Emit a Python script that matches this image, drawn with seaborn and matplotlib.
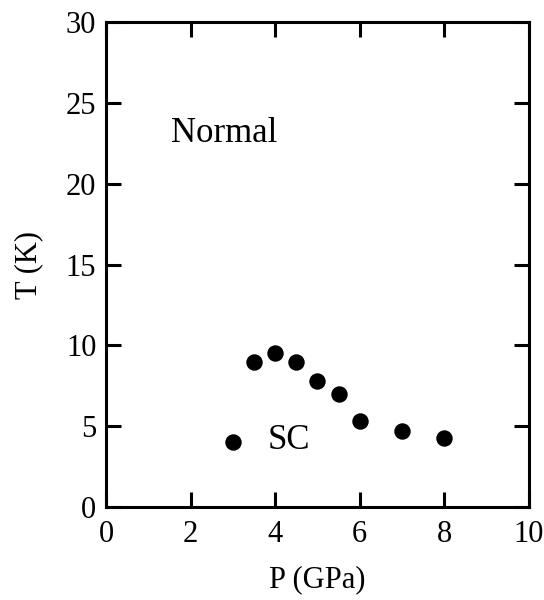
import seaborn as sns
from matplotlib import pyplot as plt
import pandas as pd

pressure = [3.0, 3.5, 4.0, 4.5, 5.0, 5.5, 6.0, 7.0, 8.0]
tc = [4.0, 9.0, 9.5, 9.0, 7.8, 7.0, 5.3, 4.7, 4.3]
x_ticks = [0, 2, 4, 6, 8, 10]
y_ticks = [0, 5, 10, 15, 20, 25, 30]

sns.set_style("ticks")
plt.rcParams['font.family'] = ['Liberation Serif', 'DejaVu Serif']
for key in ['text.color', 'axes.labelcolor', 'xtick.color', 'ytick.color',
            'axes.edgecolor']:
    plt.rcParams[key] = 'black'

data = pd.DataFrame({"P": pressure, "T": tc})

fig = plt.figure(figsize=(5.44, 6.0), dpi=100)
ax = fig.add_axes([0.195, 0.155, 0.777, 0.808])

sns.scatterplot(x="P", y="T", data=data, ax=ax, color="black", s=140,
                edgecolor="black", linewidth=0, legend=False)

ax.set_xlim(0, 10)
ax.set_ylim(0, 30)
ax.set_xticks(x_ticks)
ax.set_yticks(y_ticks)
ax.tick_params(direction="in", length=11, width=2.2, labelsize=22,
               top=True, right=True, labeltop=False, labelright=False, pad=7)
ax.tick_params(axis="x", pad=9)
for sp in ax.spines.values():
    sp.set_linewidth(2.2)
    sp.set_visible(True)

ax.set_xlabel("P (GPa)", fontsize=22, labelpad=12)
ax.set_ylabel("T (K)", fontsize=22, labelpad=16)

ax.text(2.8, 23.1, "Normal", fontsize=25, ha="center", va="center")
ax.text(4.32, 4.1, "SC", fontsize=25, ha="center", va="center")

fig.savefig("out.png", dpi=100)
